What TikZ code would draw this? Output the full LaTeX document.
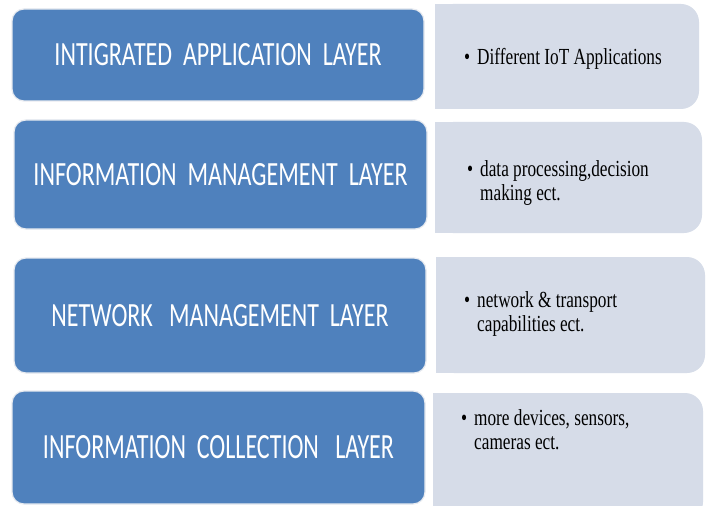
\documentclass[tikz,border=0pt]{standalone}
\usepackage{fontspec}
\newfontfamily\blayer{Carlito}
\newfontfamily\gdesc[FakeStretch=0.75]{Liberation Serif}
\definecolor{layerblue}{RGB}{79,129,189}
\definecolor{descgray}{RGB}{214,220,232}
\definecolor{softedge}{RGB}{232,235,240}
\newcommand\descfont{\gdesc\fontsize{23}{24}\selectfont}
\tikzset{
  layerbox/.style={fill=layerblue, rounded corners=12pt, draw=softedge, line width=1.2pt,
    inner sep=0pt, text=white, font=\blayer},
  desctext/.style={anchor=base west, inner sep=0pt, text width=230pt, align=left, font=\descfont},
  descfill/.style={fill=descgray}
}
\newcommand\capslabel[3]{\resizebox{#1pt}{#2pt}{#3}}
\newcommand\bul{\spaceskip=4.3pt plus 0.5pt minus 0.5pt\relax\llap{\textbullet\hspace{7pt}}}
\begin{document}
\begin{tikzpicture}[x=1pt,y=-1pt]
\useasboundingbox (0,0) rectangle (708,505);
\clip (0,0) rectangle (708,505);
\fill[white] (0,0) rectangle (708,505);

% grey description panels (rounded on the right only)
\fill[descfill, rounded corners=18pt] (435,4) rectangle (699,109);
\fill[descfill] (435,4) rectangle (470,109);
\fill[descfill, rounded corners=18pt] (435,122) rectangle (702,233);
\fill[descfill] (435,122) rectangle (470,233);
\fill[descfill, rounded corners=18pt] (436,257) rectangle (705,373);
\fill[descfill] (436,257) rectangle (470,373);
\fill[descfill, rounded corners=18pt] (433,393) rectangle (703,520);
\fill[descfill] (433,393) rectangle (470,520);

% blue layer boxes
\node[layerbox, minimum width=412pt, minimum height=92pt] (l1) at (218,55)
  {\capslabel{327}{22}{INTIGRATED\ \ APPLICATION\ \ LAYER}};
\node[layerbox, minimum width=413pt, minimum height=109pt] (l2) at (220.5,174.5)
  {\capslabel{374}{22}{INFORMATION\ \ MANAGEMENT\ \ LAYER}};
\node[layerbox, minimum width=412pt, minimum height=115pt] (l3) at (220,315.5)
  {\capslabel{337}{22}{NETWORK\ \ \ MANAGEMENT\ \ LAYER}};
\node[layerbox, minimum width=413pt, minimum height=113pt] (l4) at (218.5,447.5)
  {\capslabel{351}{23}{INFORMATION\ \ COLLECTION\ \ \ LAYER}};

% descriptions
\node[desctext] (d1) at (477,65) {\bul Different IoT Applications};
\node[desctext] (d2) at (480,176) {\bul data processing,decision\\making ect.};
\node[desctext] (d3) at (477,307) {\bul network \& transport\\capabilities ect.};
\node[desctext] (d4) at (474,425) {\bul more devices, sensors,\\cameras ect.};
\end{tikzpicture}
\end{document}
